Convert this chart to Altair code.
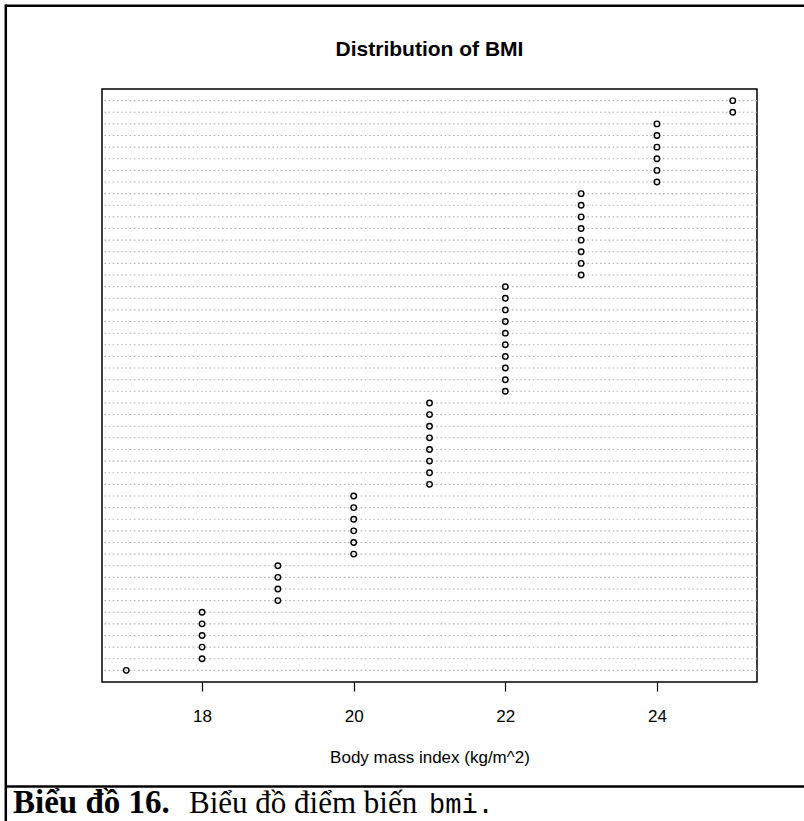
import altair as alt
import pandas as pd

# Sorted BMI observations (kg/m^2), one per row of the dot chart
bmi = [17,
       18, 18, 18, 18, 18,
       19, 19, 19, 19,
       20, 20, 20, 20, 20, 20,
       21, 21, 21, 21, 21, 21, 21, 21,
       22, 22, 22, 22, 22, 22, 22, 22, 22, 22,
       23, 23, 23, 23, 23, 23, 23, 23,
       24, 24, 24, 24, 24, 24,
       25, 25]
x_ticks = [18, 20, 22, 24]

title_text = "Distribution of BMI"
x_title = "Body mass index (kg/m^2)"
caption_bold = "Biểu đồ 16."
caption_plain = "Biểu đồ điểm biến"
caption_code = "bmi."

n = len(bmi)
df = pd.DataFrame({"bmi": bmi, "row": list(range(1, n + 1))})

W, H = 655, 593
PAD_L, PAD_T = 102, 89
one = alt.Data(values=[{}])

x_scale = alt.Scale(domain=[16.68, 25.32], nice=False, zero=False)
y_scale = alt.Scale(domain=[0, n + 1], nice=False, zero=False)

base = alt.Chart(df)

# dotted guide line for each observation
guides = base.mark_rule(color="#b4b4b4", strokeWidth=1.1, strokeDash=[1.6, 2.6]).encode(
    y=alt.Y("row:Q", scale=y_scale, axis=None)
)

points = base.mark_point(shape="circle", filled=False, color="black",
                         size=30, strokeWidth=1.4, opacity=1).encode(
    x=alt.X("bmi:Q", scale=x_scale,
            axis=alt.Axis(values=x_ticks, title=x_title, grid=False, domain=False,
                          tickColor="black", tickSize=9, tickWidth=1.2,
                          labelFont="Liberation Sans", labelFontSize=17, labelColor="black",
                          labelPadding=17, labelFlush=False,
                          titleFont="Liberation Sans", titleFontSize=17,
                          titleFontWeight="normal", titleColor="black", titlePadding=25)),
    y=alt.Y("row:Q", scale=y_scale, axis=None),
)

title = alt.Chart(one).mark_text(
    text=title_text, font="Liberation Sans", fontSize=21, fontWeight="bold",
    color="black", align="center", baseline="alphabetic"
).encode(x=alt.value(W / 2), y=alt.value(56 - PAD_T))

# page frame around the figure and the caption rule
lw = 2.5
frame_top = alt.Chart(one).mark_rule(color="black", strokeWidth=lw).encode(
    x=alt.value(5.8 - PAD_L), x2=alt.value(820 - PAD_L), y=alt.value(5.8 - PAD_T))
frame_left = alt.Chart(one).mark_rule(color="black", strokeWidth=lw).encode(
    x=alt.value(5.8 - PAD_L), y=alt.value(4.5 - PAD_T), y2=alt.value(830 - PAD_T))
caption_rule = alt.Chart(one).mark_rule(color="black", strokeWidth=lw).encode(
    x=alt.value(5.8 - PAD_L), x2=alt.value(820 - PAD_L), y=alt.value(786.5 - PAD_T))

cap_y = 813 - PAD_T
cap1 = alt.Chart(one).mark_text(
    text=caption_bold, font="Liberation Serif", fontSize=33, fontWeight="bold",
    color="black", align="left", baseline="alphabetic"
).encode(x=alt.value(13 - PAD_L), y=alt.value(cap_y))
cap2 = alt.Chart(one).mark_text(
    text=caption_plain, font="Liberation Serif", fontSize=31,
    color="black", align="left", baseline="alphabetic"
).encode(x=alt.value(189 - PAD_L), y=alt.value(cap_y))
cap3 = alt.Chart(one).mark_text(
    text=caption_code, font="Liberation Mono", fontSize=27,
    color="black", align="left", baseline="alphabetic"
).encode(x=alt.value(429 - PAD_L), y=alt.value(cap_y))

chart = alt.layer(
    guides, points, title, frame_top, frame_left, caption_rule, cap1, cap2, cap3
).properties(
    width=W, height=H,
    autosize=alt.AutoSizeParams(type="none"),
    padding={"left": PAD_L, "top": PAD_T, "right": 804 - PAD_L - W, "bottom": 821 - PAD_T - H},
    background="white",
).configure_view(
    stroke="black", strokeWidth=1.5
)

chart.save("out.html", embed_options={"renderer": "svg", "actions": False})
